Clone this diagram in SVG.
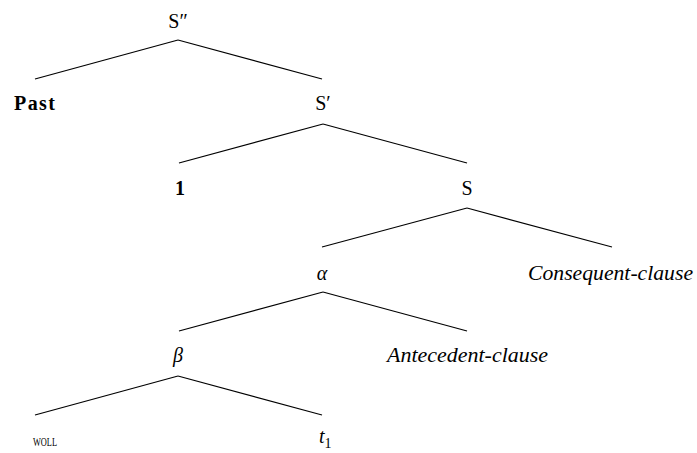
<svg xmlns="http://www.w3.org/2000/svg" width="697" height="453" viewBox="0 0 697 453">
<rect width="697" height="453" fill="#fff"/>
<g id="edges" stroke="#000" stroke-width="1.2">
<line x1="178" y1="40" x2="35" y2="79"/>
<line x1="178" y1="40" x2="322" y2="79"/>
<line x1="323" y1="124" x2="179" y2="163"/>
<line x1="323" y1="124" x2="467" y2="163"/>
<line x1="467" y1="208" x2="322" y2="247"/>
<line x1="467" y1="208" x2="612" y2="247"/>
<line x1="323" y1="292" x2="179" y2="331"/>
<line x1="323" y1="292" x2="467" y2="331"/>
<line x1="178" y1="376" x2="35" y2="415"/>
<line x1="178" y1="376" x2="322" y2="415"/>
</g>
<g id="n-S2"><text font-family="Liberation Serif" font-size="20" text-anchor="middle" x="178" y="28">S″</text></g>
<g id="n-past"><text font-family="Liberation Serif" font-size="20" font-weight="bold" x="14" y="110" textLength="41">Past</text></g>
<g id="n-S1"><text font-family="Liberation Serif" font-size="20" text-anchor="middle" x="323" y="110">S′</text></g>
<g id="n-1"><text font-family="Liberation Serif" font-size="20" font-weight="bold" text-anchor="middle" x="180" y="195">1</text></g>
<g id="n-S"><text font-family="Liberation Serif" font-size="20" text-anchor="middle" x="467" y="195">S</text></g>
<g id="n-alpha"><text font-family="Liberation Serif" font-size="20" font-style="italic" text-anchor="middle" x="322" y="280">α</text></g>
<g id="n-cons"><text font-family="Liberation Serif" font-size="20" font-style="italic" x="528" y="280" textLength="165" lengthAdjust="spacingAndGlyphs">Consequent-clause</text></g>
<g id="n-beta"><text font-family="Liberation Serif" font-size="20" font-style="italic" text-anchor="middle" x="178" y="362">β</text></g>
<g id="n-ante"><text font-family="Liberation Serif" font-size="20" font-style="italic" x="387" y="362" textLength="161" lengthAdjust="spacingAndGlyphs">Antecedent-clause</text></g>
<g id="n-woll"><text font-family="Liberation Serif" font-size="18" font-variant="small-caps" x="33" y="446" textLength="24" lengthAdjust="spacingAndGlyphs">woll</text></g>
<g id="n-t1"><text font-family="Liberation Serif" font-size="20" x="319" y="443"><tspan font-style="italic">t</tspan><tspan font-size="14" dy="5">1</tspan></text></g>
</svg>
